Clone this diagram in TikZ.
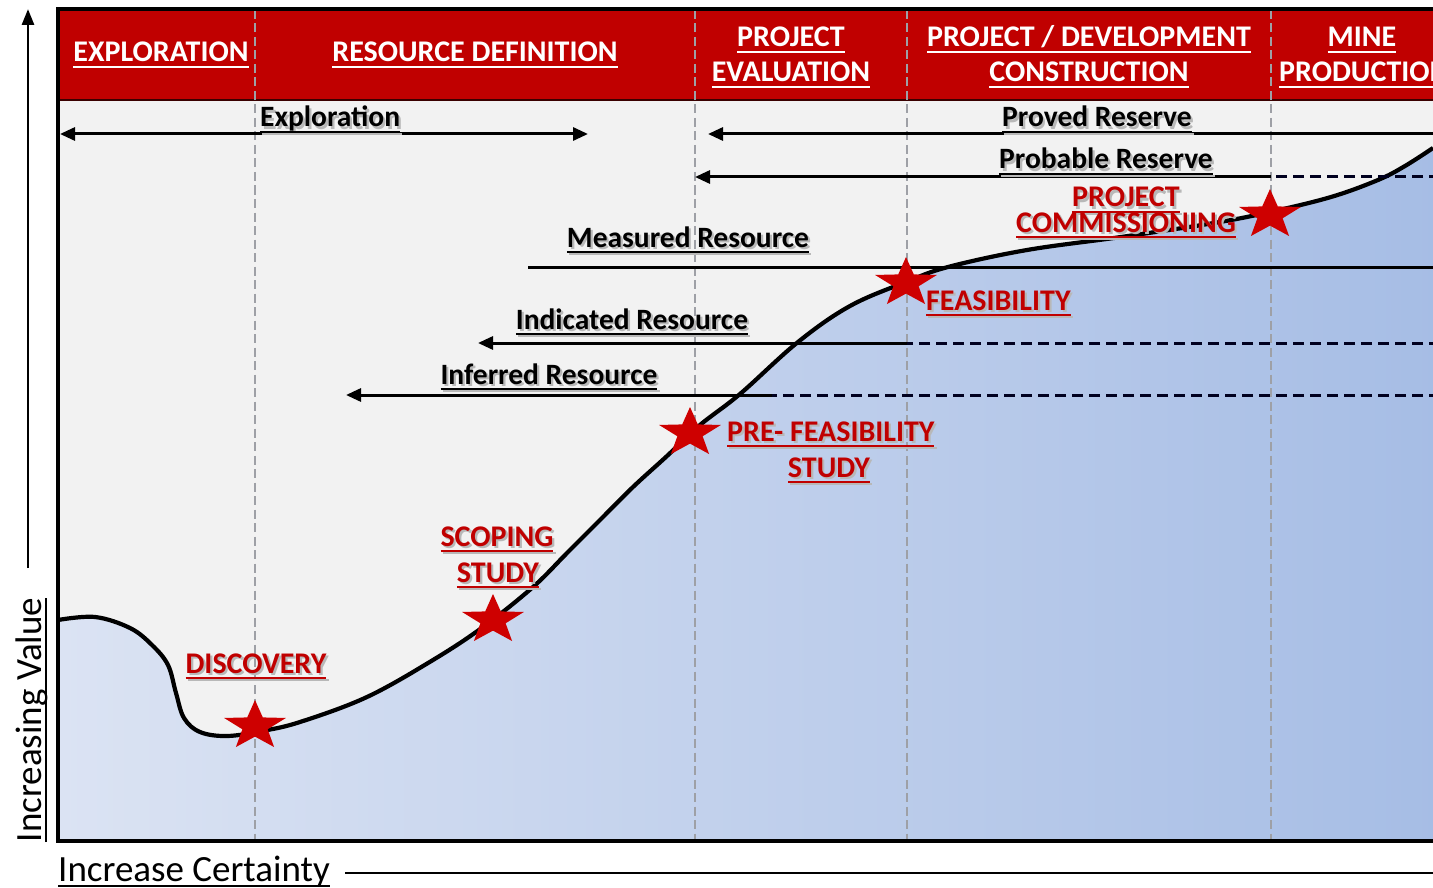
\documentclass[tikz,border=0pt]{standalone}
\usepackage{fontspec}
\setmainfont{Carlito}
\usetikzlibrary{arrows.meta,shapes.geometric}

\definecolor{hdrred}{RGB}{192,0,0}
\definecolor{lblred}{RGB}{192,0,0}
\definecolor{starred}{RGB}{206,0,0}
\definecolor{plotgray}{RGB}{242,242,242}
\definecolor{bluelight}{RGB}{219,227,243}
\definecolor{bluedark}{RGB}{166,189,229}
\definecolor{guide}{RGB}{158,160,166}

% underlined text: a rule of fixed depth below the baseline
\newcommand\ulin[1]{\leavevmode\setbox0\hbox{#1}\rlap{\rule[-5.8pt]{\wd0}{2pt}}\box0}
% underlined text with a soft drop shadow
\newcommand\shadowed[2]{\leavevmode\rlap{\kern2.2pt\raisebox{-2.2pt}{\textcolor{black!28}{\ulin{#2}}}}\textcolor{#1}{\ulin{#2}}}

% the value curve through the project life
\def\valuecurve{(58,620) (95,617) (130,628) (152,645) (168,665) (176,693) (184,718)
  (200,732) (227,736) (262,731) (300,722) (367,697) (433,660) (483,627) (533,587)
  (567,553) (600,520) (633,487) (667,456) (700,425) (740,394) (798,342) (850,306)
  (906,282) (948,267) (1027,250) (1121,237) (1214,223) (1270,212) (1331,197)
  (1378,180) (1405,166) (1433,148)}

\begin{document}
\begin{tikzpicture}[x=1pt,y=-1pt,
  >={Triangle[length=15pt,width=13pt]},
  hdr/.style={font=\fontsize{30}{36}\selectfont\bfseries, text=white, anchor=base, inner sep=0pt},
  blk/.style={font=\fontsize{29.5}{35}\selectfont\bfseries, anchor=base, inner sep=0pt},
  rlbl/.style={font=\fontsize{30}{36}\selectfont\bfseries, anchor=base, inner sep=0pt},
  axlbl/.style={font=\fontsize{37}{44}\selectfont, inner sep=0pt},
  guideline/.style={draw=guide, line width=2pt, dash pattern=on 9pt off 4.5pt},
  solidline/.style={draw=black, line width=3pt},
  dashline/.style={draw=black!88!blue, line width=3pt, dash pattern=on 11pt off 6pt},
  milestone/.style={star, star points=5, star point ratio=2.45, fill=starred, draw=none,
    minimum size=52pt, inner sep=0pt, xscale=1.25},
]
\useasboundingbox (0,0) rectangle (1433,888);
\clip (0,0) rectangle (1433,888);

% plot area background
\fill[plotgray] (58,100) rectangle (1440,841);

% region below the value curve
\shade[left color=bluelight, right color=bluedark]
  plot[smooth, tension=0.6] coordinates {\valuecurve}
  -- (1440,148) -- (1440,841) -- (58,841) -- cycle;

% header band
\fill[hdrred] (58,9) rectangle (1440,100);
\draw[black!70!hdrred, line width=1.5pt] (58,100) -- (1440,100);

% phase boundaries
\foreach \gx/\gn in {255/ga, 695/gb, 907/gc, 1271/gd} {
  \coordinate (\gn-top) at (\gx,10);
  \coordinate (\gn-bot) at (\gx,840);
  \draw[guideline] (\gn-top) -- (\gn-bot);
}

% value curve
\draw[black, line width=4.2pt, line join=round]
  plot[smooth, tension=0.6] coordinates {\valuecurve};

% resource / reserve ranges
\coordinate (expL) at (60,134);   \coordinate (expR) at (588,134);
\coordinate (prvR) at (1440,134); \coordinate (prvL) at (708,134);
\coordinate (prbR) at (1440,177); \coordinate (prbM) at (1271,177); \coordinate (prbL) at (695,177);
\coordinate (meaR) at (1440,267); \coordinate (meaL) at (528,267);
\coordinate (indR) at (1440,343); \coordinate (indM) at (907,343);  \coordinate (indL) at (478,343);
\coordinate (infR) at (1440,395); \coordinate (infM) at (772,395);  \coordinate (infL) at (346,395);

\draw[solidline, <->] (expL) -- (expR);
\draw[solidline, ->] (prvR) -- (prvL);
\draw[dashline] (prbR) -- (prbM);
\draw[solidline, ->] (prbM) -- (prbL);
\draw[solidline] (meaR) -- (meaL);
\draw[dashline] (indR) -- (indM);
\draw[solidline, ->] (indM) -- (indL);
\draw[dashline] (infR) -- (infM);
\draw[solidline, ->] (infM) -- (infL);

% range labels
\node[blk, anchor=base west] (lexp) at (260,127) {\shadowed{black}{Exploration}};
\node[blk] (lprv) at (1097,127) {\shadowed{black}{Proved Reserve}};
\node[blk] (lprb) at (1106,169) {\shadowed{black}{Probable Reserve}};
\node[blk] (lmea) at (688,247) {\shadowed{black}{Measured Resource}};
\node[blk] (lind) at (632,329) {\shadowed{black}{Indicated Resource}};
\node[blk] (linf) at (549,384) {\shadowed{black}{Inferred Resource}};

% milestones
\node[milestone] (sdis) at (255,726) {};
\node[milestone] (ssco) at (493,620) {};
\node[milestone] (spre) at (690,433) {};
\node[milestone] (sfea) at (906,283) {};
\node[milestone] (scom) at (1270,215) {};

\node[rlbl] (ldis) at (256,673) {\shadowed{lblred}{DISCOVERY}};
\node[rlbl] (lsco1) at (497,546) {\shadowed{lblred}{SCOPING}};
\node[rlbl] (lsco2) at (498,582) {\shadowed{lblred}{STUDY}};
\node[rlbl, anchor=base west] (lpre1) at (727,441) {\shadowed{lblred}{PRE- FEASIBILITY}};
\node[rlbl] (lpre2) at (829,477) {\shadowed{lblred}{STUDY}};
\node[rlbl, anchor=base west] (lfea) at (926,310) {\shadowed{lblred}{FEASIBILITY}};
\node[rlbl] (lcom1) at (1126,207) {\shadowed{lblred}{PROJECT}};
\node[rlbl] (lcom2) at (1126,232) {\shadowed{lblred}{COMMISSIONING}};

% phase titles
\node[hdr] (hexp) at (161,62) {\ulin{EXPLORATION}};
\node[hdr] (hres) at (475,62) {\ulin{RESOURCE DEFINITION}};
\node[hdr] (hev1) at (791,47) {\ulin{PROJECT}};
\node[hdr] (hev2) at (791,82) {\ulin{EVALUATION}};
\node[hdr] (hcon1) at (1089,47) {\ulin{PROJECT / DEVELOPMENT}};
\node[hdr] (hcon2) at (1089,82) {\ulin{CONSTRUCTION}};
\node[hdr] (hmin1) at (1362,47) {\ulin{MINE}};
\node[hdr, anchor=base west] (hmin2) at (1279,82) {\ulin{PRODUCTION}};

% chart frame
\draw[black, line width=4.8pt] (1445,9) -- (58,9) -- (58,841) -- (1445,841);

% axes
\coordinate (yax0) at (28,568); \coordinate (yax1) at (28,9);
\draw[black, line width=2.8pt, -{Triangle[length=16pt,width=12pt]}] (yax0) -- (yax1);
\node[axlbl, rotate=90, anchor=base] (lyax) at (41,720) {\ulin{Increasing Value}};

\node[axlbl, anchor=base west] (lxax) at (58,881) {\ulin{Increase Certainty}};
\coordinate (xax0) at (345,873); \coordinate (xax1) at (1440,873);
\draw[black, line width=2.8pt] (xax0) -- (xax1);
\end{tikzpicture}
\end{document}
